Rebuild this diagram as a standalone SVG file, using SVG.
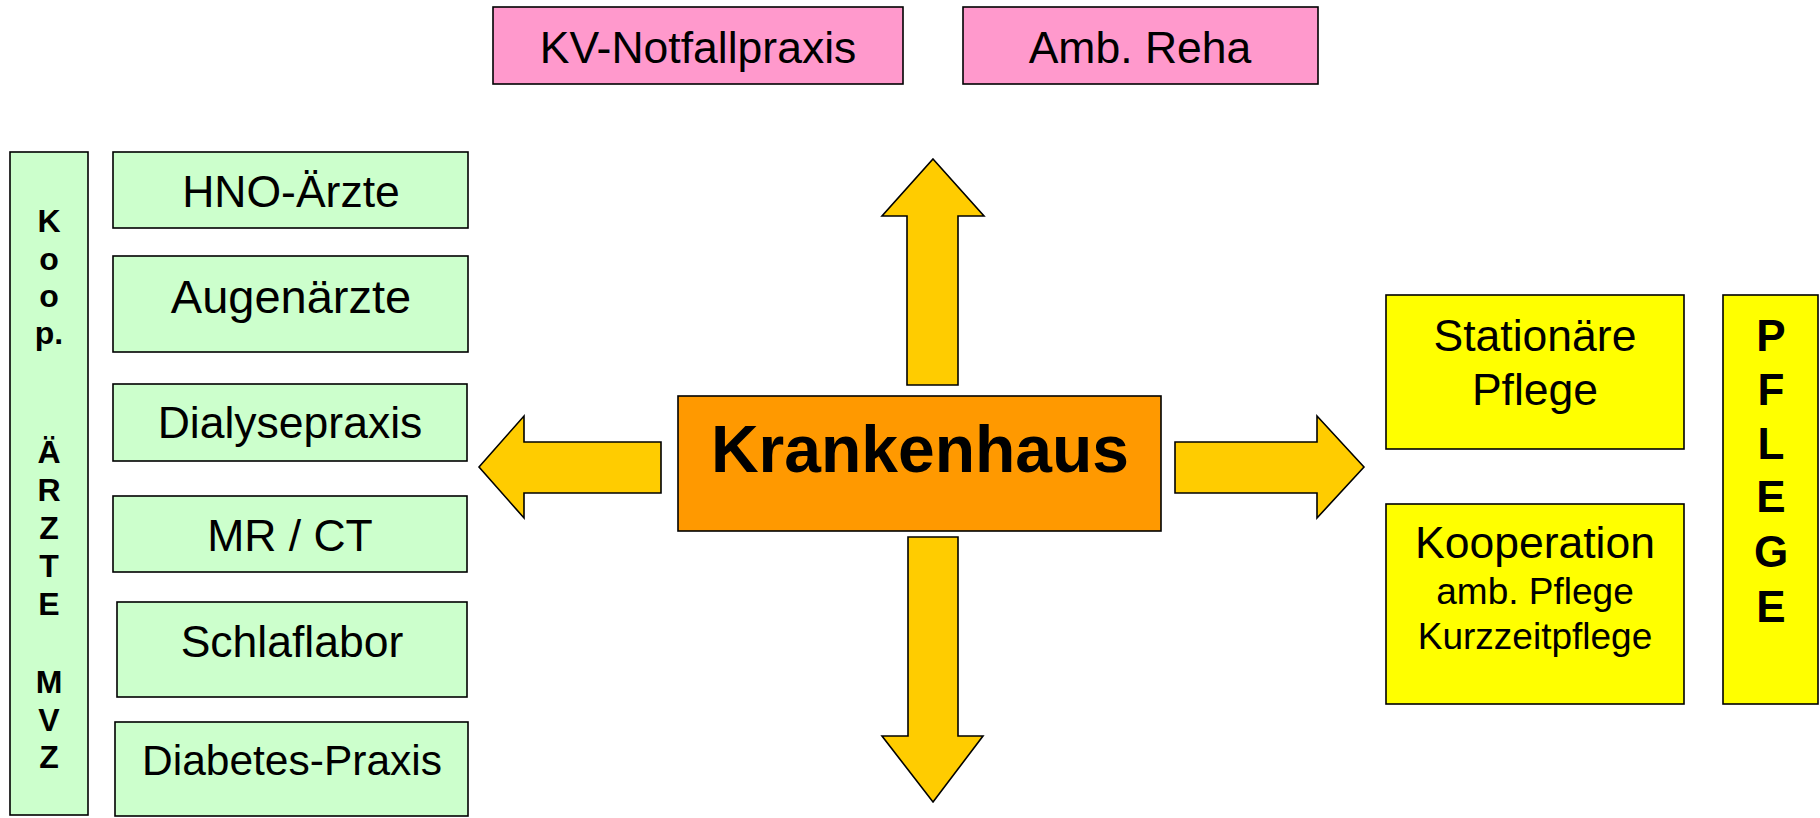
<svg xmlns="http://www.w3.org/2000/svg" width="1820" height="818" viewBox="0 0 1820 818">
<style>
.box{stroke:#000;stroke-width:1.6}
.g{fill:#CCFFCC}.p{fill:#FF99CC}.y{fill:#FFFF00}.o{fill:#FF9900}
.arr{fill:#FFCC00;stroke:#000;stroke-width:1.6;stroke-linejoin:miter}
text{font-family:"Liberation Sans",Arial,sans-serif;fill:#000;text-anchor:middle}
.t{font-size:44.5px}
.s{font-size:37px}
.b{font-weight:bold;font-size:32px}
.bp{font-weight:bold;font-size:44px}
</style>
<rect width="1820" height="818" fill="#fff"/>
<g id="connectors">
<polygon class="arr" points="933,159 984,216 958,216 958,385 907,385 907,216 882,216"/>
<polygon class="arr" points="933,802 983,736 958,736 958,537 908,537 908,736 882,736"/>
<polygon class="arr" points="479,467 524,416 524,442 661,442 661,493 524,493 524,518"/>
<polygon class="arr" points="1364,467 1317,416 1317,442 1175,442 1175,493 1317,493 1317,518"/>
</g>
<g id="kv"><rect class="box p" x="493" y="7" width="410" height="77"/><text class="t" x="698" y="63">KV-Notfallpraxis</text></g>
<g id="reha"><rect class="box p" x="963" y="7" width="355" height="77"/><text class="t" x="1140" y="63">Amb. Reha</text></g>
<g id="koop"><rect class="box g" x="10" y="152" width="78" height="663"/>
<text class="b" x="49"><tspan x="49" y="232">K</tspan><tspan x="49" y="270">o</tspan><tspan x="49" y="307">o</tspan><tspan x="49" y="344">p.</tspan><tspan x="49" y="463">Ä</tspan><tspan x="49" y="501">R</tspan><tspan x="49" y="539">Z</tspan><tspan x="49" y="577">T</tspan><tspan x="49" y="615">E</tspan><tspan x="49" y="693">M</tspan><tspan x="49" y="731">V</tspan><tspan x="49" y="768">Z</tspan></text></g>
<g id="hno"><rect class="box g" x="113" y="152" width="355" height="76"/><text class="t" x="291" y="207">HNO-Ärzte</text></g>
<g id="augen"><rect class="box g" x="113" y="256" width="355" height="96"/><text class="t" x="291" y="313" style="font-size:47px">Augenärzte</text></g>
<g id="dialyse"><rect class="box g" x="113" y="384" width="354" height="77"/><text class="t" x="290" y="438">Dialysepraxis</text></g>
<g id="mrct"><rect class="box g" x="113" y="496" width="354" height="76"/><text class="t" x="290" y="551">MR / CT</text></g>
<g id="schlaf"><rect class="box g" x="117" y="602" width="350" height="95"/><text class="t" x="292" y="657">Schlaflabor</text></g>
<g id="diabetes"><rect class="box g" x="115" y="722" width="353" height="94"/><text class="t" x="292" y="775" style="font-size:42.5px">Diabetes-Praxis</text></g>
<g id="krankenhaus"><rect class="box o" x="678" y="396" width="483" height="135"/><text x="920" y="472" style="font-size:66px;font-weight:bold">Krankenhaus</text></g>
<g id="stationaer"><rect class="box y" x="1386" y="295" width="298" height="154"/><text class="t" x="1535" y="351">Stationäre</text><text class="t" x="1535" y="405">Pflege</text></g>
<g id="kooperation"><rect class="box y" x="1386" y="504" width="298" height="200"/><text class="t" x="1535" y="558">Kooperation</text><text class="s" x="1535" y="604">amb. Pflege</text><text class="s" x="1535" y="649">Kurzzeitpflege</text></g>
<g id="pflege"><rect class="box y" x="1723" y="295" width="95" height="409"/>
<text class="bp"><tspan x="1771" y="351">P</tspan><tspan x="1771" y="405">F</tspan><tspan x="1771" y="459">L</tspan><tspan x="1771" y="512">E</tspan><tspan x="1771" y="567">G</tspan><tspan x="1771" y="622">E</tspan></text></g>
</svg>
